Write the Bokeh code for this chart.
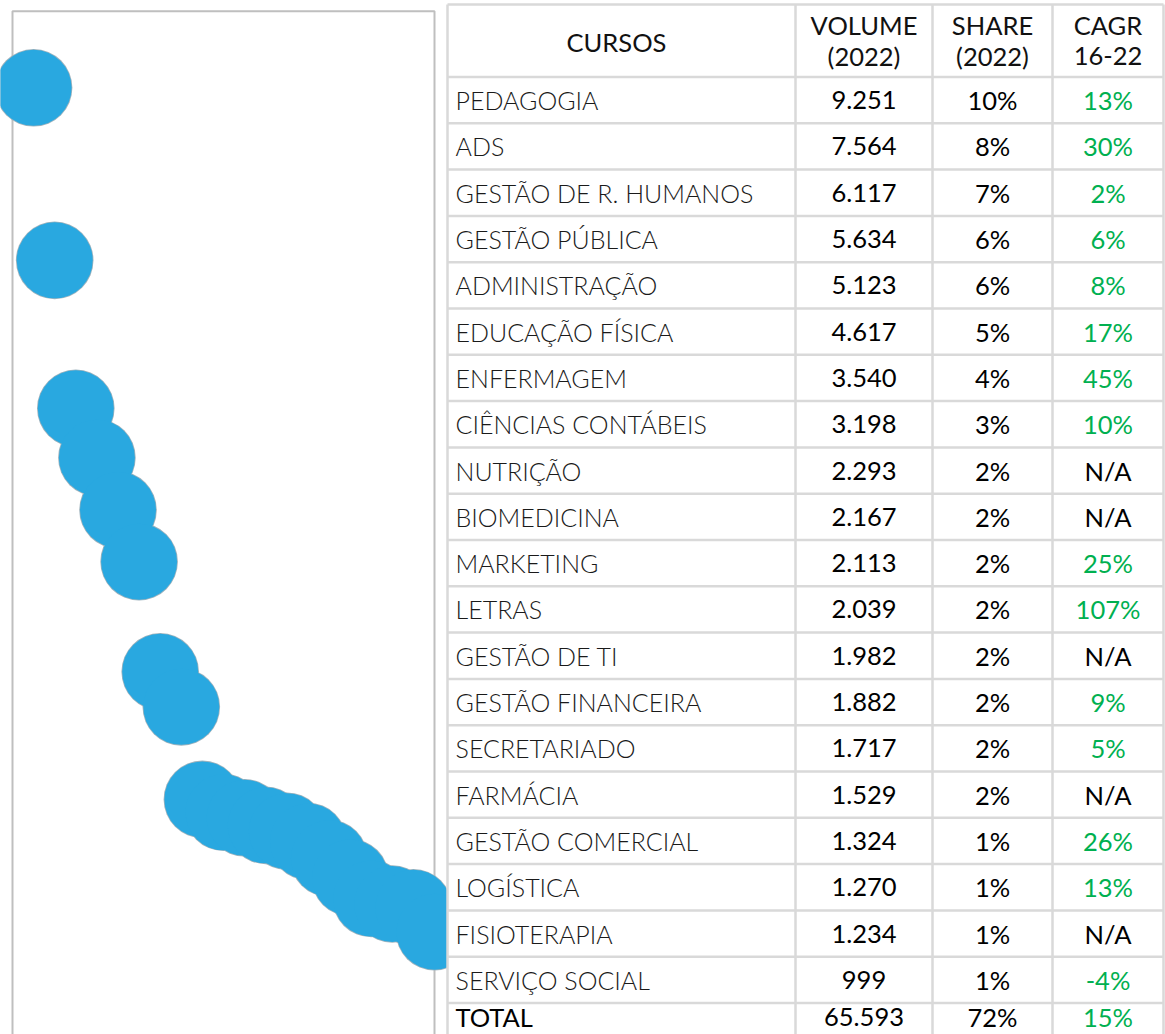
from bokeh.plotting import figure
from bokeh.models import Range1d
from bokeh.core.properties import value
from bokeh.embed import file_html
from bokeh.resources import INLINE

# ---------------- data ----------------
cursos = ["PEDAGOGIA", "ADS", "GESTÃO DE R. HUMANOS", "GESTÃO PÚBLICA", "ADMINISTRAÇÃO",
          "EDUCAÇÃO FÍSICA", "ENFERMAGEM", "CIÊNCIAS CONTÁBEIS", "NUTRIÇÃO", "BIOMEDICINA",
          "MARKETING", "LETRAS", "GESTÃO DE TI", "GESTÃO FINANCEIRA", "SECRETARIADO",
          "FARMÁCIA", "GESTÃO COMERCIAL", "LOGÍSTICA", "FISIOTERAPIA", "SERVIÇO SOCIAL"]
volume = [9251, 7564, 6117, 5634, 5123, 4617, 3540, 3198, 2293, 2167,
          2113, 2039, 1982, 1882, 1717, 1529, 1324, 1270, 1234, 999]
share = [10, 8, 7, 6, 6, 5, 4, 3, 2, 2, 2, 2, 2, 2, 2, 2, 1, 1, 1, 1]
cagr = ["13%", "30%", "2%", "6%", "8%", "17%", "45%", "10%", "N/A", "N/A",
        "25%", "107%", "N/A", "9%", "5%", "N/A", "26%", "13%", "N/A", "-4%"]
total_label = "TOTAL"
total_volume = 65593
total_share = 72
total_cagr = "15%"
headers = ["CURSOS", "VOLUME\n(2022)", "SHARE\n(2022)", "CAGR\n16-22"]
rank = list(range(1, len(volume) + 1))

# ---------------- layout (pixels) ----------------
W, H = 1165, 1034
BOX_L, BOX_R, BOX_T, BOX_B = 12.0, 434.0, 10.7, 1033.4
X_MAX, Y_MAX = 20, 10000
ppr = (BOX_R - BOX_L) / X_MAX
ppv = (BOX_B - BOX_T) / Y_MAX

COL_EDGES = [447, 795, 932, 1052, 1163]
TBL_TOP, HDR_BOT, ROW_H = 4.0, 76.5, 46.3

BLUE = "#29A8E0"
GREEN = "#00B050"
GRID = "#d9d9d9"
FS_NAME = "25px"
FS_NUM = "25.5px"

p = figure(width=W, height=H, output_backend="svg", toolbar_location=None,
           x_range=Range1d(-BOX_L / ppr, (W - BOX_L) / ppr),
           y_range=Range1d(-(H - BOX_B) / ppv, BOX_B / ppv),
           x_axis_type=None, y_axis_type=None, min_border=0,
           outline_line_color=None, background_fill_color="white",
           border_fill_color="white")
p.grid.visible = False
p.extra_x_ranges = {"tx": Range1d(0, W)}
p.extra_y_ranges = {"ty": Range1d(H, 0)}

# scatter frame (left, top, right edges; bottom lies below the picture)
p.line(x=[0, 0, X_MAX, X_MAX], y=[0, Y_MAX, Y_MAX, 0], line_color="#bfbfbf",
       line_width=2)

# circles: a gray rim layer, then the fill layer
diam = 76
p.scatter(rank, volume, size=diam + 1.6, fill_color="#9fb3bd", line_color=None)
p.scatter(rank, volume, size=diam, fill_color=BLUE, line_color=None)

# table background
p.quad(left=[COL_EDGES[0]], right=[W + 10], top=[-10], bottom=[H + 10],
       fill_color="white", line_color=None, x_range_name="tx", y_range_name="ty")

n_rows = len(cursos) + 1
row_lines = [TBL_TOP, HDR_BOT] + [HDR_BOT + k * ROW_H for k in range(1, n_rows + 1)]
p.segment(x0=[COL_EDGES[0]] * len(row_lines), x1=[COL_EDGES[-1]] * len(row_lines),
          y0=row_lines, y1=row_lines, line_color=GRID, line_width=2.5,
          x_range_name="tx", y_range_name="ty")
p.segment(x0=COL_EDGES, x1=COL_EDGES, y0=[TBL_TOP] * len(COL_EDGES),
          y1=[H + 20] * len(COL_EDGES), line_color=GRID, line_width=2.5,
          x_range_name="tx", y_range_name="ty")

centers = [(COL_EDGES[i] + COL_EDGES[i + 1]) / 2 for i in range(4)]

def fmt_int(v):
    return f"{v:,}".replace(",", ".")

# header
hdr_mid = (TBL_TOP + HDR_BOT) / 2
for i, h in enumerate(headers):
    lines = h.split("\n")
    if len(lines) == 1:
        ys = [hdr_mid + 1]
    else:
        ys = [hdr_mid - 16, hdr_mid + 15]
    cx = centers[i] - (5 if i == 0 else 0)
    p.text(x=[cx] * len(lines), y=ys, text=lines, text_align="center",
           text_baseline="middle", text_font=value("Lato"), text_font_size=FS_NUM,
           text_color="#111111", x_range_name="tx", y_range_name="ty")

row_y = [HDR_BOT + (i + 0.5) * ROW_H for i in range(len(cursos))]
tot_y = HDR_BOT + (len(cursos) + 0.5) * ROW_H - 9

p.text(x=[COL_EDGES[0] + 8] * len(cursos), y=row_y, text=cursos, text_align="left",
       text_baseline="middle", text_font=value("Lato Light"), text_font_size=FS_NAME,
       text_color="#1a1a1a", x_range_name="tx", y_range_name="ty")
p.text(x=[centers[1]] * len(volume), y=row_y, text=[fmt_int(v) for v in volume],
       text_align="center", text_baseline="middle", text_font=value("Lato"),
       text_font_size=FS_NUM, text_color="#000000", x_range_name="tx", y_range_name="ty")
p.text(x=[centers[2]] * len(share), y=row_y, text=[f"{s}%" for s in share],
       text_align="center", text_baseline="middle", text_font=value("Lato"),
       text_font_size=FS_NUM, text_color="#000000", x_range_name="tx", y_range_name="ty")
p.text(x=[centers[3]] * len(cagr), y=row_y, text=cagr,
       text_color=["#000000" if c == "N/A" else GREEN for c in cagr],
       text_align="center", text_baseline="middle", text_font=value("Lato"),
       text_font_size=FS_NUM, x_range_name="tx", y_range_name="ty")

# total row
p.text(x=[COL_EDGES[0] + 8], y=[tot_y], text=[total_label], text_align="left",
       text_baseline="middle", text_font=value("Lato"), text_font_size=FS_NUM,
       text_color="#000000", x_range_name="tx", y_range_name="ty")
p.text(x=[centers[1], centers[2]], y=[tot_y, tot_y],
       text=[fmt_int(total_volume), f"{total_share}%"], text_align="center",
       text_baseline="middle", text_font=value("Lato"), text_font_size=FS_NUM,
       text_color="#000000", x_range_name="tx", y_range_name="ty")
p.text(x=[centers[3]], y=[tot_y], text=[total_cagr], text_align="center",
       text_baseline="middle", text_font=value("Lato"), text_font_size=FS_NUM,
       text_color=GREEN, x_range_name="tx", y_range_name="ty")

open("out.html", "w").write(file_html(p, INLINE))
